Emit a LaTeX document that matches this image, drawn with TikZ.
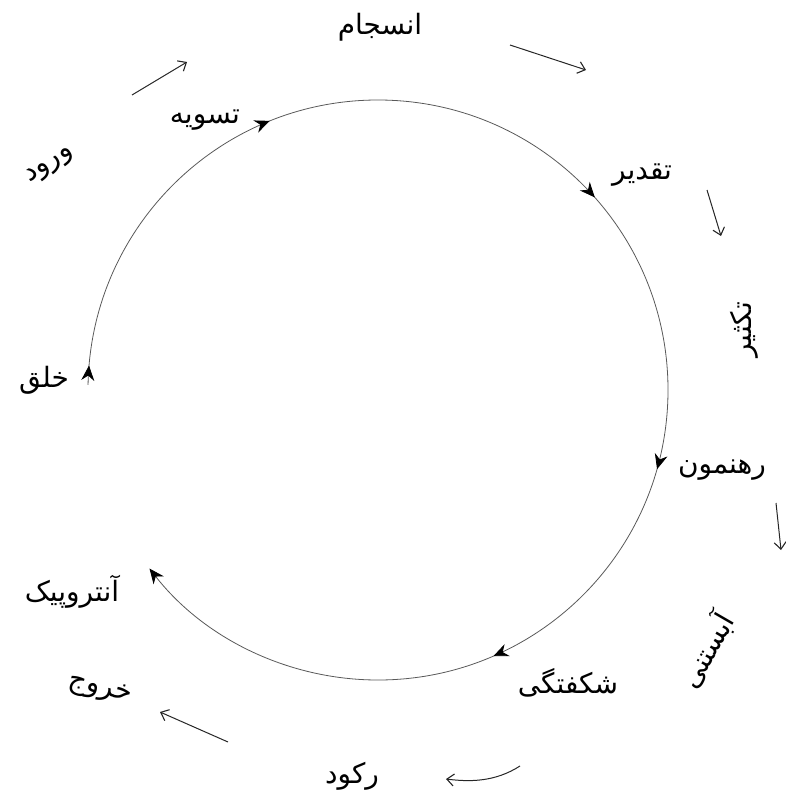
\documentclass[tikz,border=0pt]{standalone}
\usepackage{fontspec}
\newfontfamily\arabicfont[Script=Arabic]{DejaVu Sans}
\TeXXeTstate=1
\usetikzlibrary{arrows.meta,decorations.markings}
\tikzset{
  lbl/.style={font=\arabicfont\fontsize{28}{32}\selectfont, inner sep=0pt, text=black},
  ring/.style={draw=black!65, line width=0.8pt},
  arctip/.style={-{Stealth[length=15pt,width=13pt,black]}},
  sidearrow/.style={draw=black!85, line width=1pt, -{Straight Barb[length=7pt,width=12pt,line width=1.1pt]}},
  alongmark/.style={postaction={decorate}, decoration={markings,
    mark=at position 0.012 with {\arrow{Stealth[length=15pt,width=13pt,black]}},
    mark=at position 0.209 with {\arrow{Stealth[length=15pt,width=13pt,black]}},
    mark=at position 0.428 with {\arrow{Stealth[length=15pt,width=13pt,black]}},
    mark=at position 0.607 with {\arrow{Stealth[length=15pt,width=13pt,black]}},
    mark=at position 0.765 with {\arrow{Stealth[length=15pt,width=13pt,black]}}}}
}
\begin{document}
\begin{tikzpicture}[x=1pt,y=1pt]
\useasboundingbox (0,0) rectangle (785,-805);
\coordinate (ctr) at (378,-390);
% main cycle arc (clockwise, open between the lower-left labels)
\draw[ring, alongmark, arctip] (ctr) ++(179:290) arc[start angle=179, end angle=-142, radius=290];

% labels
\node[lbl] (ensejam) at (380,-27) {\beginR انسجام\endR};
\node[lbl] (taswiye) at (205,-120) {\beginR تسویه\endR};
\node[lbl] (taqdir) at (642,-175) {\beginR تقدیر\endR};
\node[lbl, rotate=90] (taksir) at (744,-330) {\beginR تکثیر\endR};
\node[lbl] (rahnemun) at (722,-470) {\beginR رهنمون\endR};
\node[lbl, rotate=60] (abestani) at (706,-650) {\beginR آبستنی\endR};
\node[lbl] (shekofti) at (568,-683) {\beginR شکفتگی\endR};
\node[lbl] (rokud) at (352,-776) {\beginR رکود\endR};
\node[lbl, rotate=-14] (khoruj) at (100,-690) {\beginR خروج\endR};
\node[lbl] (antropik) at (72,-592) {\beginR آنتروپیک\endR};
\node[lbl] (khalq) at (44,-380) {\beginR خلق\endR};
\node[lbl, rotate=34] (vorud) at (50,-166) {\beginR ورود\endR};

% side arrows
\coordinate (a1s) at (132,-95);  \coordinate (a1e) at (187,-62);
\coordinate (a2s) at (510,-45);  \coordinate (a2e) at (586,-70);
\coordinate (a3s) at (707,-190); \coordinate (a3e) at (721,-236);
\coordinate (a4s) at (776,-503); \coordinate (a4e) at (781,-550);
\coordinate (a5s) at (520,-766); \coordinate (a5e) at (446,-779);
\coordinate (a6s) at (228,-742); \coordinate (a6e) at (160,-712);
\draw[sidearrow] (a1s) -- (a1e);
\draw[sidearrow] (a2s) -- (a2e);
\draw[sidearrow] (a3s) -- (a3e);
\draw[sidearrow] (a4s) -- (a4e);
\draw[sidearrow] (a5s) .. controls (495,-782) and (470,-782) .. (a5e);
\draw[sidearrow] (a6s) -- (a6e);
\end{tikzpicture}
\end{document}
